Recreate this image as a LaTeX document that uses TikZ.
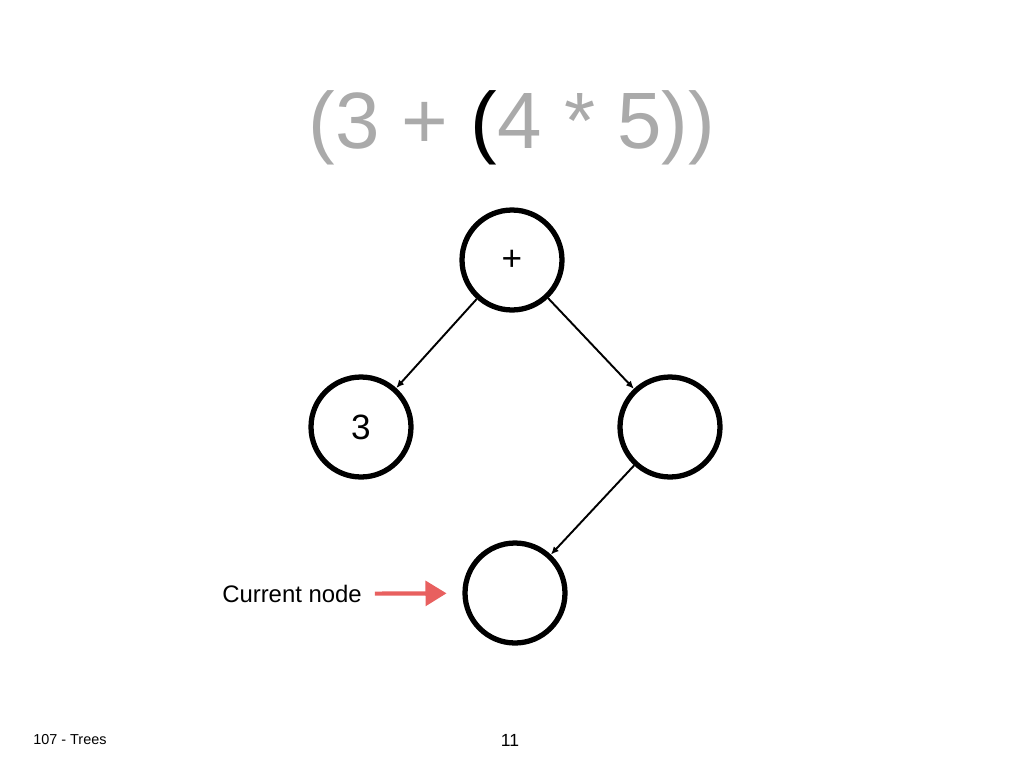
\documentclass[tikz,border=0pt]{standalone}
\usepackage{fontspec}
\setmainfont{Liberation Sans}
\usepackage{tikz}
\usetikzlibrary{positioning,arrows.meta}
\definecolor{titlegray}{HTML}{AAAAAA}
\definecolor{markred}{HTML}{E8605F}

\begin{document}
\begin{tikzpicture}[x=0.02cm,y=-0.02cm,
    tnode/.style={circle, draw, line width=3pt, minimum size=2cm, inner sep=0pt, font=\fontsize{20}{22}\selectfont},
    edge/.style={-{Latex[length=4.5pt,width=4pt]}, line width=1.1pt}]
      \useasboundingbox (0,0) rectangle (1024,768);
      \node[text=titlegray, font=\fontsize{45.5}{50}\selectfont] (title) at (512,128) {(3 + {\color{black}(}4 * 5))};
      \node[tnode] (plus) at (512,260) {+};
      \node[tnode] (three) at (361,427) {3};
      \node[tnode] (times) at (670,427) {};
      \node[tnode] (cur) at (515,593) {};
      \draw[edge] (plus) -- (three);
      \draw[edge] (plus) -- (times);
      \draw[edge] (times) -- (cur);
      % pointer to the current node
      \node[font=\fontsize{13.6}{15}\selectfont] (curlabel) at (292,594) {Current node};
      \draw[markred, line width=2.4pt, -{Triangle[length=12pt,width=14pt]}, shorten <=4pt, shorten >=9pt] (curlabel) -- (cur);
      % footer
      \node[font=\fontsize{8.2}{10}\selectfont, anchor=west, inner sep=0pt] (course) at (33,740) {107 - Trees};
      \node[font=\fontsize{10}{12}\selectfont] (page) at (510,740) {11};
\end{tikzpicture}
\end{document}
